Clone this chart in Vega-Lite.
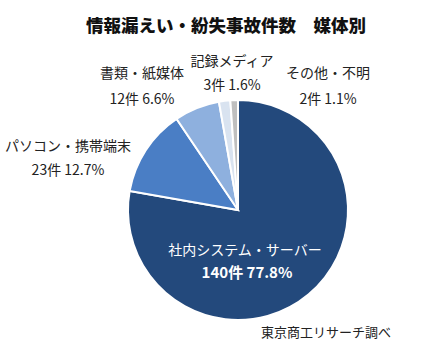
{
  "$schema": "https://vega.github.io/schema/vega-lite/v6.json",
  "width": 220,
  "height": 220,
  "autosize": {"type": "none"},
  "padding": {"left": 128, "top": 100, "right": 83, "bottom": 37},
  "background": "white",
  "title": {
    "text": "情報漏えい・紛失事故件数　媒体別",
    "font": "Noto Sans CJK JP",
    "fontSize": 17.5,
    "fontWeight": 900,
    "color": "#111111",
    "anchor": "middle",
    "frame": "group",
    "dx": -12,
    "offset": 20
  },
  "config": {"view": {"stroke": null}, "text": {"font": "Noto Sans CJK JP"}},
  "data": {
    "values": [
      {"ord": 1, "name": "社内システム・サーバー", "count": 140, "detail": "140件 77.8%", "label": "社内システム・サーバー\n140件 77.8%"},
      {"ord": 2, "name": "パソコン・携帯端末", "count": 23, "detail": "23件 12.7%", "label": "パソコン・携帯端末\n23件 12.7%"},
      {"ord": 3, "name": "書類・紙媒体", "count": 12, "detail": "12件 6.6%", "label": "書類・紙媒体\n12件 6.6%"},
      {"ord": 4, "name": "記録メディア", "count": 3, "detail": "3件 1.6%", "label": "記録メディア\n3件 1.6%"},
      {"ord": 5, "name": "その他・不明", "count": 2, "detail": "2件 1.1%", "label": "その他・不明\n2件 1.1%"}
    ]
  },
  "layer": [
    {
      "mark": {"type": "arc", "stroke": "white", "strokeWidth": 2},
      "encoding": {
        "theta": {"field": "count", "type": "quantitative", "stack": true},
        "order": {"field": "ord", "type": "quantitative", "sort": "ascending"},
        "color": {
          "field": "name",
          "type": "nominal",
          "legend": null,
          "scale": {
            "domain": ["社内システム・サーバー", "パソコン・携帯端末", "書類・紙媒体", "記録メディア", "その他・不明"],
            "range": ["#23497c", "#4a7ec5", "#8eb0de", "#d9e3f0", "#bfbfbf"]
          }
        }
      }
    },
    {
      "transform": [{"filter": "datum.ord == 2"}],
      "mark": {"type": "text", "lineBreak": "\n", "lineHeight": 24, "fontSize": 14, "color": "#222222", "dx": -170, "dy": -63},
      "encoding": {"text": {"field": "label"}}
    },
    {
      "transform": [{"filter": "datum.ord == 3"}],
      "mark": {"type": "text", "lineBreak": "\n", "lineHeight": 26, "fontSize": 14, "color": "#222222", "dx": -96, "dy": -136},
      "encoding": {"text": {"field": "label"}}
    },
    {
      "transform": [{"filter": "datum.ord == 4"}],
      "mark": {"type": "text", "lineBreak": "\n", "lineHeight": 24, "fontSize": 14, "color": "#222222", "dx": -6, "dy": -148},
      "encoding": {"text": {"field": "label"}}
    },
    {
      "transform": [{"filter": "datum.ord == 5"}],
      "mark": {"type": "text", "lineBreak": "\n", "lineHeight": 26, "fontSize": 14, "color": "#222222", "dx": 90, "dy": -136},
      "encoding": {"text": {"field": "label"}}
    },
    {
      "transform": [{"filter": "datum.ord == 1"}],
      "mark": {"type": "text", "fontSize": 14, "color": "white", "dx": 7, "dy": 41},
      "encoding": {"text": {"field": "name"}}
    },
    {
      "transform": [{"filter": "datum.ord == 1"}],
      "mark": {"type": "text", "fontSize": 15, "fontWeight": "bold", "color": "white", "dx": 9, "dy": 63},
      "encoding": {"text": {"field": "detail"}}
    },
    {
      "data": {"values": [{"note": "東京商工リサーチ調べ"}]},
      "mark": {"type": "text", "fontSize": 13, "color": "#222222", "dx": 88, "dy": 123},
      "encoding": {"text": {"field": "note"}}
    }
  ]
}
